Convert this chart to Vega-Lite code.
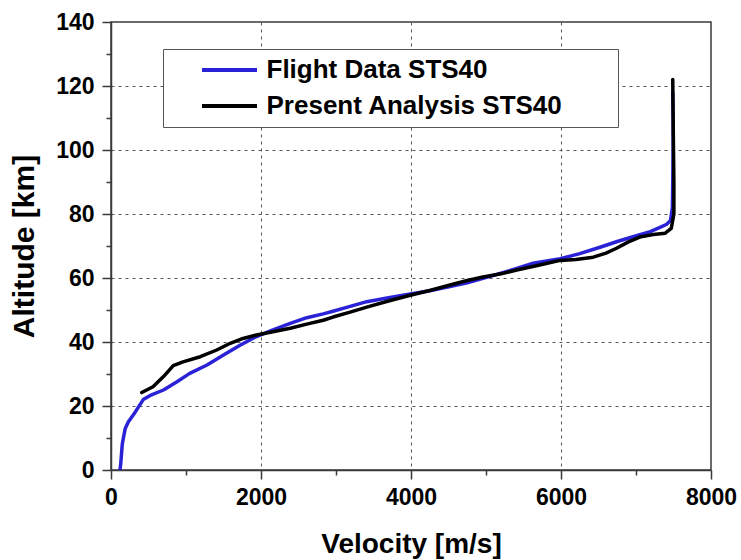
{
  "$schema": "https://vega.github.io/schema/vega-lite/v6.json",
  "width": 600,
  "height": 448,
  "autosize": {"type": "none"},
  "padding": {"left": 111, "top": 22, "right": 30, "bottom": 90},
  "background": "white",
  "config": {
    "view": {"stroke": "#3a3a3a", "strokeWidth": 1.5},
    "font": "Liberation Sans"
  },
  "data": {
    "values": [
      {"series": "Flight Data STS40", "i": 1, "velocity": 120, "altitude": 0},
      {"series": "Flight Data STS40", "i": 2, "velocity": 130, "altitude": 2},
      {"series": "Flight Data STS40", "i": 3, "velocity": 140, "altitude": 5},
      {"series": "Flight Data STS40", "i": 4, "velocity": 150, "altitude": 8},
      {"series": "Flight Data STS40", "i": 5, "velocity": 165, "altitude": 10},
      {"series": "Flight Data STS40", "i": 6, "velocity": 190, "altitude": 13},
      {"series": "Flight Data STS40", "i": 7, "velocity": 230, "altitude": 15},
      {"series": "Flight Data STS40", "i": 8, "velocity": 320, "altitude": 18},
      {"series": "Flight Data STS40", "i": 9, "velocity": 430, "altitude": 22},
      {"series": "Flight Data STS40", "i": 10, "velocity": 540, "altitude": 23.5},
      {"series": "Flight Data STS40", "i": 11, "velocity": 700, "altitude": 25},
      {"series": "Flight Data STS40", "i": 12, "velocity": 880, "altitude": 27.6},
      {"series": "Flight Data STS40", "i": 13, "velocity": 1050, "altitude": 30.2},
      {"series": "Flight Data STS40", "i": 14, "velocity": 1280, "altitude": 32.8},
      {"series": "Flight Data STS40", "i": 15, "velocity": 1500, "altitude": 35.9},
      {"series": "Flight Data STS40", "i": 16, "velocity": 1720, "altitude": 39},
      {"series": "Flight Data STS40", "i": 17, "velocity": 1940, "altitude": 41.7},
      {"series": "Flight Data STS40", "i": 18, "velocity": 2160, "altitude": 43.8},
      {"series": "Flight Data STS40", "i": 19, "velocity": 2390, "altitude": 45.8},
      {"series": "Flight Data STS40", "i": 20, "velocity": 2610, "altitude": 47.6},
      {"series": "Flight Data STS40", "i": 21, "velocity": 2830, "altitude": 48.8},
      {"series": "Flight Data STS40", "i": 22, "velocity": 2960, "altitude": 49.6},
      {"series": "Flight Data STS40", "i": 23, "velocity": 3200, "altitude": 51.2},
      {"series": "Flight Data STS40", "i": 24, "velocity": 3410, "altitude": 52.6},
      {"series": "Flight Data STS40", "i": 25, "velocity": 3700, "altitude": 53.8},
      {"series": "Flight Data STS40", "i": 26, "velocity": 3990, "altitude": 55},
      {"series": "Flight Data STS40", "i": 27, "velocity": 4250, "altitude": 56},
      {"series": "Flight Data STS40", "i": 28, "velocity": 4520, "altitude": 57.3},
      {"series": "Flight Data STS40", "i": 29, "velocity": 4750, "altitude": 58.5},
      {"series": "Flight Data STS40", "i": 30, "velocity": 4960, "altitude": 59.9},
      {"series": "Flight Data STS40", "i": 31, "velocity": 5200, "altitude": 61.5},
      {"series": "Flight Data STS40", "i": 32, "velocity": 5410, "altitude": 63},
      {"series": "Flight Data STS40", "i": 33, "velocity": 5630, "altitude": 64.6},
      {"series": "Flight Data STS40", "i": 34, "velocity": 5990, "altitude": 66},
      {"series": "Flight Data STS40", "i": 35, "velocity": 6250, "altitude": 67.6},
      {"series": "Flight Data STS40", "i": 36, "velocity": 6520, "altitude": 69.6},
      {"series": "Flight Data STS40", "i": 37, "velocity": 6750, "altitude": 71.4},
      {"series": "Flight Data STS40", "i": 38, "velocity": 6960, "altitude": 72.9},
      {"series": "Flight Data STS40", "i": 39, "velocity": 7190, "altitude": 74.5},
      {"series": "Flight Data STS40", "i": 40, "velocity": 7320, "altitude": 75.8},
      {"series": "Flight Data STS40", "i": 41, "velocity": 7410, "altitude": 76.8},
      {"series": "Flight Data STS40", "i": 42, "velocity": 7460, "altitude": 78},
      {"series": "Flight Data STS40", "i": 43, "velocity": 7485, "altitude": 82},
      {"series": "Flight Data STS40", "i": 44, "velocity": 7490, "altitude": 90},
      {"series": "Flight Data STS40", "i": 45, "velocity": 7495, "altitude": 100},
      {"series": "Flight Data STS40", "i": 46, "velocity": 7495, "altitude": 110},
      {"series": "Flight Data STS40", "i": 47, "velocity": 7490, "altitude": 118},
      {"series": "Present Analysis STS40", "i": 1, "velocity": 410, "altitude": 24.2},
      {"series": "Present Analysis STS40", "i": 2, "velocity": 560, "altitude": 26},
      {"series": "Present Analysis STS40", "i": 3, "velocity": 700, "altitude": 29.2},
      {"series": "Present Analysis STS40", "i": 4, "velocity": 830, "altitude": 32.6},
      {"series": "Present Analysis STS40", "i": 5, "velocity": 960, "altitude": 33.8},
      {"series": "Present Analysis STS40", "i": 6, "velocity": 1190, "altitude": 35.4},
      {"series": "Present Analysis STS40", "i": 7, "velocity": 1410, "altitude": 37.5},
      {"series": "Present Analysis STS40", "i": 8, "velocity": 1590, "altitude": 39.6},
      {"series": "Present Analysis STS40", "i": 9, "velocity": 1760, "altitude": 41.1},
      {"series": "Present Analysis STS40", "i": 10, "velocity": 1940, "altitude": 42.2},
      {"series": "Present Analysis STS40", "i": 11, "velocity": 2160, "altitude": 43.2},
      {"series": "Present Analysis STS40", "i": 12, "velocity": 2390, "altitude": 44.3},
      {"series": "Present Analysis STS40", "i": 13, "velocity": 2610, "altitude": 45.6},
      {"series": "Present Analysis STS40", "i": 14, "velocity": 2830, "altitude": 46.8},
      {"series": "Present Analysis STS40", "i": 15, "velocity": 2960, "altitude": 47.8},
      {"series": "Present Analysis STS40", "i": 16, "velocity": 3200, "altitude": 49.4},
      {"series": "Present Analysis STS40", "i": 17, "velocity": 3410, "altitude": 50.9},
      {"series": "Present Analysis STS40", "i": 18, "velocity": 3700, "altitude": 52.8},
      {"series": "Present Analysis STS40", "i": 19, "velocity": 3990, "altitude": 54.6},
      {"series": "Present Analysis STS40", "i": 20, "velocity": 4250, "altitude": 56.1},
      {"series": "Present Analysis STS40", "i": 21, "velocity": 4520, "altitude": 57.8},
      {"series": "Present Analysis STS40", "i": 22, "velocity": 4750, "altitude": 59.2},
      {"series": "Present Analysis STS40", "i": 23, "velocity": 4960, "altitude": 60.3},
      {"series": "Present Analysis STS40", "i": 24, "velocity": 5200, "altitude": 61.3},
      {"series": "Present Analysis STS40", "i": 25, "velocity": 5410, "altitude": 62.5},
      {"series": "Present Analysis STS40", "i": 26, "velocity": 5700, "altitude": 64},
      {"series": "Present Analysis STS40", "i": 27, "velocity": 5990, "altitude": 65.5},
      {"series": "Present Analysis STS40", "i": 28, "velocity": 6200, "altitude": 65.8},
      {"series": "Present Analysis STS40", "i": 29, "velocity": 6430, "altitude": 66.5},
      {"series": "Present Analysis STS40", "i": 30, "velocity": 6600, "altitude": 67.8},
      {"series": "Present Analysis STS40", "i": 31, "velocity": 6740, "altitude": 69.3},
      {"series": "Present Analysis STS40", "i": 32, "velocity": 6900, "altitude": 71.3},
      {"series": "Present Analysis STS40", "i": 33, "velocity": 7050, "altitude": 72.8},
      {"series": "Present Analysis STS40", "i": 34, "velocity": 7230, "altitude": 73.6},
      {"series": "Present Analysis STS40", "i": 35, "velocity": 7390, "altitude": 74},
      {"series": "Present Analysis STS40", "i": 36, "velocity": 7470, "altitude": 75.5},
      {"series": "Present Analysis STS40", "i": 37, "velocity": 7505, "altitude": 80},
      {"series": "Present Analysis STS40", "i": 38, "velocity": 7505, "altitude": 90},
      {"series": "Present Analysis STS40", "i": 39, "velocity": 7500, "altitude": 100},
      {"series": "Present Analysis STS40", "i": 40, "velocity": 7495, "altitude": 110},
      {"series": "Present Analysis STS40", "i": 41, "velocity": 7490, "altitude": 122}
    ]
  },
  "mark": {"type": "line", "strokeWidth": 3.5, "strokeCap": "round", "strokeJoin": "round", "clip": true},
  "encoding": {
    "x": {
      "field": "velocity",
      "type": "quantitative",
      "scale": {"domain": [0, 8000], "nice": false, "zero": false},
      "axis": {
        "title": "Velocity [m/s]",
        "values": [0, 1000, 2000, 3000, 4000, 5000, 6000, 7000, 8000],
        "format": "d",
        "labelExpr": "datum.value % 2000 === 0 ? datum.label : ''",
        "labelFontSize": 23,
        "labelFontWeight": "bold",
        "labelColor": "#000000",
        "labelPadding": 7,
        "labelOverlap": false,
        "labelFlush": false,
        "tickSize": {"condition": {"test": "datum.value % 2000 === 0", "value": 9}, "value": 5},
        "tickColor": "#3a3a3a",
        "tickWidth": 1.5,
        "domainColor": "#3a3a3a",
        "domainWidth": 1.5,
        "grid": true,
        "gridColor": "#555555",
        "gridDash": [3, 4],
        "gridWidth": 1,
        "gridOpacity": {"condition": {"test": "datum.value % 2000 === 0 && datum.value > 0 && datum.value < 8000", "value": 1}, "value": 0},
        "titleFontSize": 28,
        "titleFontWeight": "bold",
        "titleColor": "#000000",
        "titleX": 300,
        "titleY": 82,
        "titleBaseline": "alphabetic",
        "titleAlign": "center"
      }
    },
    "y": {
      "field": "altitude",
      "type": "quantitative",
      "scale": {"domain": [0, 140], "nice": false, "zero": false},
      "axis": {
        "title": "Altitude [km]",
        "values": [0, 10, 20, 30, 40, 50, 60, 70, 80, 90, 100, 110, 120, 130, 140],
        "format": "d",
        "labelExpr": "datum.value % 20 === 0 ? datum.label : ''",
        "labelFontSize": 23,
        "labelFontWeight": "bold",
        "labelColor": "#000000",
        "labelPadding": 8,
        "labelOverlap": false,
        "labelFlush": false,
        "tickSize": {"condition": {"test": "datum.value % 20 === 0", "value": 9}, "value": 5},
        "tickColor": "#3a3a3a",
        "tickWidth": 1.5,
        "domainColor": "#3a3a3a",
        "domainWidth": 1.5,
        "grid": true,
        "gridColor": "#555555",
        "gridDash": [3, 4],
        "gridWidth": 1,
        "gridOpacity": {"condition": {"test": "datum.value % 20 === 0 && datum.value > 0 && datum.value < 140", "value": 1}, "value": 0},
        "titleFontSize": 30,
        "titleFontWeight": "bold",
        "titleColor": "#000000",
        "titleAngle": -90,
        "titleX": -87,
        "titleY": 224,
        "titleBaseline": "middle",
        "titleAlign": "center"
      }
    },
    "color": {
      "field": "series",
      "type": "nominal",
      "scale": {"domain": ["Flight Data STS40", "Present Analysis STS40"], "range": ["#2a22d6", "#000000"]},
      "legend": {
        "orient": "none",
        "legendX": 52,
        "legendY": 27,
        "title": "\u00a0",
        "titleOrient": "right",
        "titleFontSize": 10,
        "titlePadding": 47,
        "padding": 8,
        "strokeColor": "#555555",
        "fillColor": "#ffffff",
        "symbolType": "M-3,0H3",
        "symbolSize": 336,
        "symbolStrokeWidth": 4,
        "symbolOffset": 45.5,
        "labelOffset": 24,
        "labelFontSize": 26,
        "labelFontWeight": "bold",
        "labelColor": "#000000",
        "labelLimit": 500,
        "rowPadding": 10
      }
    },
    "order": {"field": "i", "type": "quantitative"}
  }
}
